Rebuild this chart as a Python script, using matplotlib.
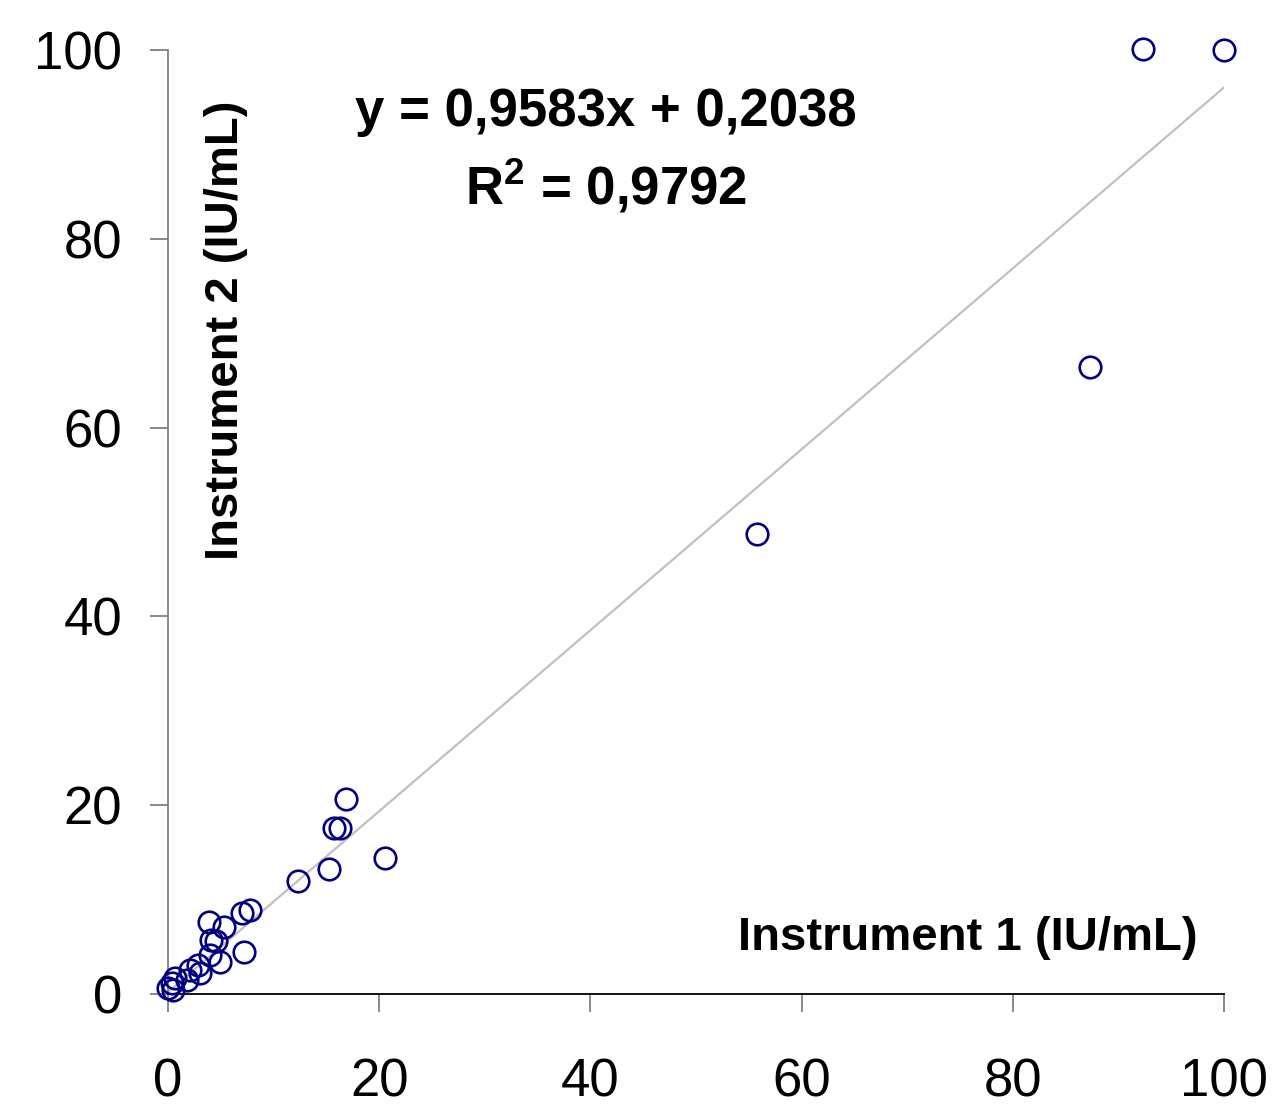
import numpy as np
import matplotlib
matplotlib.use("Agg")
import matplotlib.pyplot as plt

plt.rcParams['font.family'] = ['Liberation Sans', 'DejaVu Sans']
plt.rcParams['mathtext.fontset'] = 'custom'
plt.rcParams['mathtext.rm'] = 'Liberation Sans'
plt.rcParams['mathtext.bf'] = 'Liberation Sans:bold'

# instrument readings (IU/mL)
inst1 = [0.0, 0.5, 0.35, 0.66, 1.77, 2.08, 3.03, 2.87, 3.98, 4.92, 4.07, 4.5,
         3.88, 5.33, 6.98, 7.77, 7.2, 12.3, 15.25, 15.75, 16.3, 16.9, 20.55,
         55.8, 87.3, 92.3, 100.0]
inst2 = [0.6, 0.42, 1.13, 1.66, 1.48, 2.5, 2.19, 3.07, 4.1, 3.42, 5.72, 5.6,
         7.66, 7.13, 8.6, 8.9, 4.5, 12.0, 13.2, 17.55, 17.55, 20.7, 14.4,
         48.7, 66.4, 100.1, 100.0]
slope = 0.9583
intercept = 0.2038
r2 = 0.9792
ticks = [0, 20, 40, 60, 80, 100]

W, H = 1274, 1106
fig = plt.figure(figsize=(W / 100, H / 100), dpi=100)
ax = fig.add_axes([168 / W, 1 - 994 / H, (1224 - 168) / W, (994 - 50) / H])

# trend line
xs = np.array([min(inst1), max(inst1)])
ax.plot(xs, slope * xs + intercept, color='#c0c0c0', lw=1.6, zorder=1)

ax.plot(inst1, inst2, 'o', ls='none', ms=15.5, mfc='none', mec='#000080',
        mew=1.9, clip_on=False, zorder=3)

ax.set_xlim(0, 100)
ax.set_ylim(0, 100)
ax.set_xticks(ticks)
ax.set_yticks(ticks)
ax.tick_params(axis='x', direction='out', length=13, width=1.3, color='#808080',
               pad=33, labelsize=38)
ax.tick_params(axis='y', direction='out', length=13, width=1.3, color='#808080',
               pad=20, labelsize=38)
for s in ['top', 'right']:
    ax.spines[s].set_visible(False)
ax.spines['left'].set_color('#808080')
ax.spines['left'].set_linewidth(1.3)
ax.spines['bottom'].set_color('black')
ax.spines['bottom'].set_linewidth(1.3)

eq = 'y = {:.4f}x + {:.4f}'.format(slope, intercept).replace('.', ',')
fig.text(606 / W, 1 - 112 / H, eq, ha='center', va='center',
         fontsize=38, fontweight='bold')
r2_txt = r'R$^{\mathbf{2}}$' + ' = {:.4f}'.format(r2).replace('.', ',')
fig.text(606 / W, 1 - 186 / H, r2_txt, ha='center', va='center',
         fontsize=38, fontweight='bold')

fig.text(968 / W, 1 - 938 / H, 'Instrument 1 (IU/mL)', ha='center', va='center',
         fontsize=34, fontweight='bold')
fig.text(226 / W, 1 - 330 / H, 'Instrument 2 (IU/mL)', ha='center', va='center',
         rotation=90, fontsize=34, fontweight='bold')

fig.savefig('out.png', dpi=100)
